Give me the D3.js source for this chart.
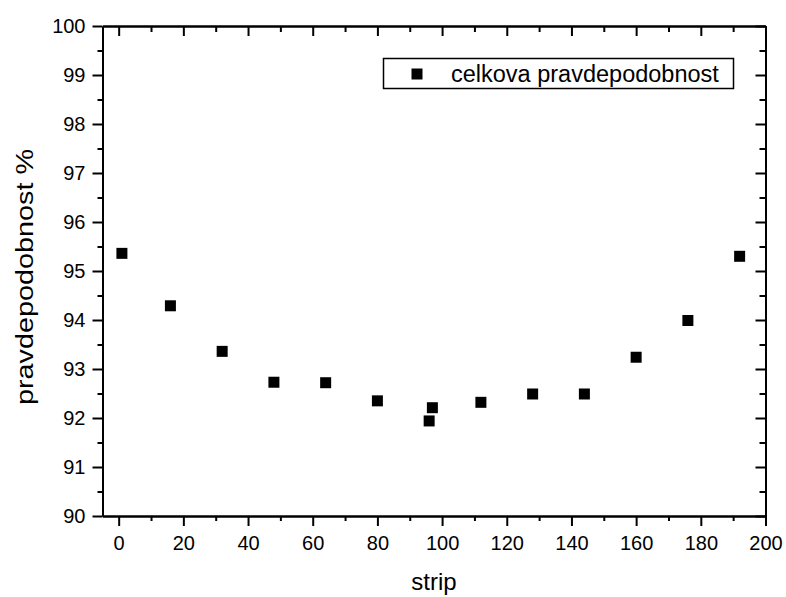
<!DOCTYPE html>
<html>
<head>
<meta charset="utf-8">
<script src="https://cdn.jsdelivr.net/npm/d3@7"></script>
<style>
  html, body { margin: 0; padding: 0; background: #fff; }
  svg { display: block; }
  text { font-family: Arial, "Liberation Sans", sans-serif; fill: #000; }
</style>
</head>
<body>
<svg id="chart" width="786" height="597"></svg>
<script>
// Strip index and overall probability (%)
const strips = [1, 16, 32, 48, 64, 80, 96, 97, 112, 128, 144, 160, 176, 192];
const probability = [95.36, 94.29, 93.36, 92.73, 92.72, 92.35, 91.94, 92.21, 92.32, 92.49, 92.49, 93.24, 93.99, 95.30];

const xMajorTicks = [0, 20, 40, 60, 80, 100, 120, 140, 160, 180, 200];
const xMinorTicks = [10, 30, 50, 70, 90, 110, 130, 150, 170, 190];
const yMajorTicks = [90, 91, 92, 93, 94, 95, 96, 97, 98, 99, 100];
const yMinorTicks = [90.5, 91.5, 92.5, 93.5, 94.5, 95.5, 96.5, 97.5, 98.5, 99.5];

const seriesName = "celkova pravdepodobnost";
const xTitle = "strip";
const yTitle = "pravdepodobnost %";

const svg = d3.select("#chart");
const plot = { left: 102.5, right: 765.5, top: 26, bottom: 516 };

const x = d3.scaleLinear().domain([-5, 200]).range([plot.left, plot.right]);
const y = d3.scaleLinear().domain([90, 100]).range([plot.bottom, plot.top]);

const axisStroke = 2;

function styleAxis(g, fontSize) {
  g.selectAll("path.domain").attr("stroke", "#000").attr("stroke-width", axisStroke);
  g.selectAll(".tick line").attr("stroke", "#000").attr("stroke-width", axisStroke);
  g.selectAll(".tick text")
    .attr("font-size", fontSize)
    .attr("font-family", "Arial, 'Liberation Sans', sans-serif")
    .attr("fill", "#000");
}

// Bottom axis: labelled major ticks pointing outward, minor ticks between
const bottomMinor = svg.append("g").attr("transform", `translate(0,${plot.bottom})`)
  .call(d3.axisBottom(x).tickValues(xMinorTicks).tickSize(5).tickSizeOuter(0).tickFormat(""));
styleAxis(bottomMinor);
const bottom = svg.append("g").attr("transform", `translate(0,${plot.bottom})`)
  .call(d3.axisBottom(x).tickValues(xMajorTicks).tickSize(10).tickSizeOuter(0).tickPadding(10).tickFormat(d3.format("d")));
styleAxis(bottom, 20);

// Top axis: mirrored ticks pointing inward
const topMinor = svg.append("g").attr("transform", `translate(0,${plot.top})`)
  .call(d3.axisBottom(x).tickValues(xMinorTicks).tickSize(6).tickSizeOuter(0).tickFormat(""));
styleAxis(topMinor);
const topMajor = svg.append("g").attr("transform", `translate(0,${plot.top})`)
  .call(d3.axisBottom(x).tickValues(xMajorTicks).tickSize(10).tickSizeOuter(0).tickFormat(""));
styleAxis(topMajor);

// Left axis: labelled major ticks pointing outward
const leftMinor = svg.append("g").attr("transform", `translate(${plot.left},0)`)
  .call(d3.axisLeft(y).tickValues(yMinorTicks).tickSize(5).tickSizeOuter(0).tickFormat(""));
styleAxis(leftMinor);
const left = svg.append("g").attr("transform", `translate(${plot.left},0)`)
  .call(d3.axisLeft(y).tickValues(yMajorTicks).tickSize(10).tickSizeOuter(0).tickPadding(7).tickFormat(d3.format("d")));
styleAxis(left, 20);

// Right axis: mirrored ticks pointing inward
const rightMinor = svg.append("g").attr("transform", `translate(${plot.right},0)`)
  .call(d3.axisLeft(y).tickValues(yMinorTicks).tickSize(6).tickSizeOuter(0).tickFormat(""));
styleAxis(rightMinor);
const rightMajor = svg.append("g").attr("transform", `translate(${plot.right},0)`)
  .call(d3.axisLeft(y).tickValues(yMajorTicks).tickSize(10).tickSizeOuter(0).tickFormat(""));
styleAxis(rightMajor);

// Flip the mirrored tick directions so they point into the plot
topMinor.selectAll(".tick line").attr("y2", 6);
topMajor.selectAll(".tick line").attr("y2", 10);
rightMinor.selectAll(".tick line").attr("x2", -6);
rightMajor.selectAll(".tick line").attr("x2", -10);

// Axis titles
svg.append("text")
  .attr("x", (plot.left + plot.right) / 2)
  .attr("y", 590)
  .attr("text-anchor", "middle")
  .attr("font-size", 24)
  .text(xTitle);

// The vertical title is drawn slightly elongated along its reading direction
svg.append("text")
  .attr("transform", `translate(33,277) rotate(-90) scale(1.2,1)`)
  .attr("text-anchor", "middle")
  .attr("font-size", 24)
  .text(yTitle);

// Data points: filled squares
const square = d3.symbol().type(d3.symbolSquare).size(121);
svg.append("g")
  .selectAll("path")
  .data(strips.map((s, i) => ({ s, p: probability[i] })))
  .join("path")
  .attr("d", square)
  .attr("transform", d => `translate(${x(d.s)},${y(d.p)})`)
  .attr("fill", "#000");

// Legend
const legend = svg.append("g");
legend.append("rect")
  .attr("x", 383.5).attr("y", 58.5)
  .attr("width", 350).attr("height", 30)
  .attr("fill", "#fff").attr("stroke", "#000").attr("stroke-width", 1.5);
legend.append("path")
  .attr("d", square)
  .attr("transform", "translate(417,74)")
  .attr("fill", "#000");
legend.append("text")
  .attr("x", 451)
  .attr("y", 82)
  .attr("font-size", 23.5)
  .text(seriesName);
</script>
</body>
</html>
